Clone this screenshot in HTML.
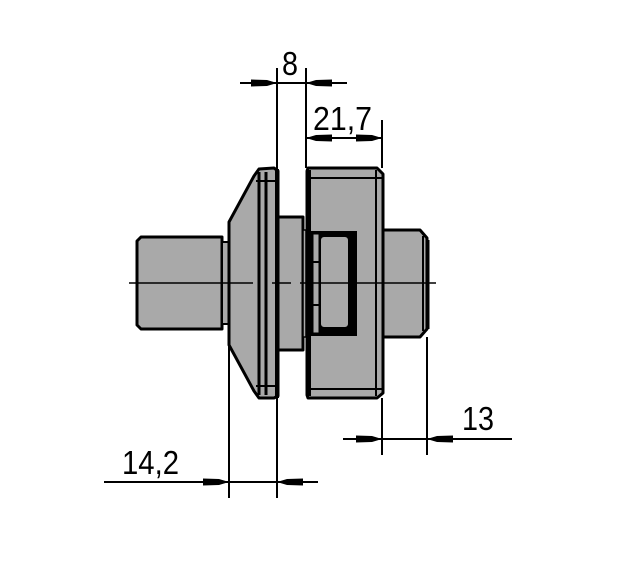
<!DOCTYPE html>
<html><head><style>html,body{margin:0;padding:0;background:#fff}svg{display:block}</style></head>
<body>
<svg width="624" height="564" viewBox="0 0 624 564" xmlns="http://www.w3.org/2000/svg">
<defs>
<path id="ar" d="M0,0 L-10,-3 L-26,-3.5 L-26,3.5 L-10,3 Z" fill="#000"/>
</defs>
<g stroke="#000" fill="#a9a9a9" stroke-linejoin="round">
<path d="M141,237 L222,237 L222,329 L141,329 L137,325 L137,241 Z" stroke-width="3"/>
<rect x="222" y="242" width="7" height="82" stroke-width="2"/>
<path d="M229,222 L254,176 L259,169 L274,168 L278,171 L278,396 L274,398 L259,398 L254,391 L229,345 Z" stroke-width="3"/>
<line x1="259" y1="172" x2="259" y2="395" stroke-width="3"/>
<line x1="266" y1="172" x2="266" y2="395" stroke-width="3"/>
<line x1="256" y1="181" x2="277" y2="181" stroke-width="2"/>
<line x1="256" y1="386" x2="277" y2="386" stroke-width="2"/>
<line x1="277" y1="169" x2="277" y2="398" stroke-width="4"/>
<rect x="278" y="217" width="25" height="133" stroke-width="3"/>
<rect x="303" y="230" width="3" height="107" stroke-width="1.5"/>
<path d="M308,168 L377,168 L383,174 L383,393 L377,398 L308,398 L307,395 L307,171 Z" stroke-width="3"/>
<line x1="308" y1="178" x2="382" y2="178" stroke-width="2"/>
<line x1="308" y1="389" x2="382" y2="389" stroke-width="2"/>
<line x1="376" y1="170" x2="376" y2="396" stroke-width="2"/>
<line x1="309" y1="170" x2="309" y2="396" stroke-width="4"/>
<rect x="311" y="231" width="46" height="105" fill="#000" stroke="none"/>
<rect x="313" y="234" width="6" height="99" stroke-width="1"/>
<rect x="320" y="236" width="29" height="92" rx="4" stroke-width="2"/>
<line x1="313" y1="262" x2="319" y2="262" stroke-width="2"/>
<line x1="313" y1="305" x2="319" y2="305" stroke-width="2"/>
<path d="M383,230 L420,230 L427,238 L427,329 L420,337 L383,337 Z" stroke-width="3"/>
<line x1="423" y1="236" x2="423" y2="331" stroke-width="2"/>
<line x1="428" y1="240" x2="428" y2="329" stroke-width="3"/>
</g>
<g stroke="#000" stroke-width="1.5" fill="none">
<line x1="129" y1="283" x2="253" y2="283"/>
<line x1="272" y1="283" x2="291" y2="283"/>
<line x1="300" y1="283" x2="436" y2="283"/>
<line x1="229" y1="345" x2="229" y2="498" stroke-width="2"/>
<line x1="277" y1="68" x2="277" y2="498" stroke-width="2"/>
<line x1="306" y1="68" x2="306" y2="168" stroke-width="2"/>
<line x1="382" y1="120" x2="382" y2="168" stroke-width="2"/>
<line x1="382" y1="398" x2="382" y2="455" stroke-width="2"/>
<line x1="427" y1="337" x2="427" y2="455" stroke-width="2"/>
<line x1="240" y1="83" x2="347" y2="83" stroke-width="2"/>
<line x1="306" y1="138" x2="382" y2="138" stroke-width="2"/>
<line x1="343" y1="439" x2="512" y2="439" stroke-width="2"/>
<line x1="104" y1="482" x2="318" y2="482" stroke-width="2"/>
</g>
<use href="#ar" transform="translate(277,83)"/>
<use href="#ar" transform="translate(306,83) rotate(180)"/>
<use href="#ar" transform="translate(306,138) rotate(180)"/>
<use href="#ar" transform="translate(382,138)"/>
<use href="#ar" transform="translate(382,439)"/>
<use href="#ar" transform="translate(427,439) rotate(180)"/>
<use href="#ar" transform="translate(229,482)"/>
<use href="#ar" transform="translate(277,482) rotate(180)"/>
<g font-family="Liberation Sans, sans-serif" font-size="33" fill="#000">
<text x="282" y="75" textLength="16" lengthAdjust="spacingAndGlyphs">8</text>
<text x="313" y="130" textLength="59" lengthAdjust="spacingAndGlyphs">21,7</text>
<text x="462" y="430" textLength="32" lengthAdjust="spacingAndGlyphs">13</text>
<text x="122" y="474" textLength="57" lengthAdjust="spacingAndGlyphs">14,2</text>
</g>
</svg>
</body></html>
